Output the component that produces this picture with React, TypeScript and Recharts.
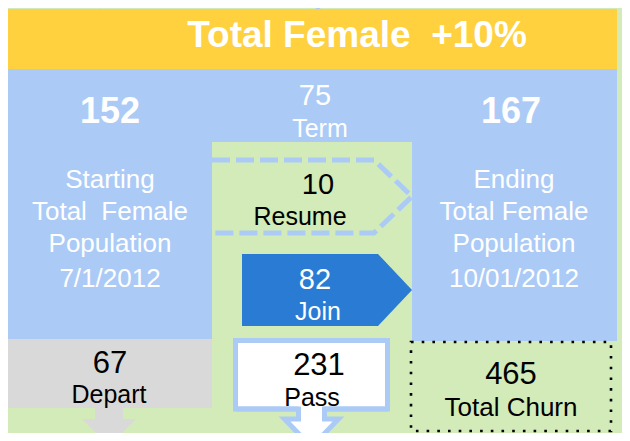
import React from 'react';
import { ComposedChart, XAxis, YAxis, ReferenceArea } from 'recharts';

// ---- data ----
const titleText = 'Total Female  +10%';
const populationValues = [152, 167];
const populationLabels = [
  ['Starting', 'Total  Female', 'Population'],
  ['Ending', 'Total Female', 'Population'],
];
const populationDates = ['7/1/2012', '10/01/2012'];
const flowLabels = ['Term', 'Resume', 'Join', 'Depart', 'Pass', 'Total Churn'];
const flowValues = [75, 10, 82, 67, 231, 465];

// ---- style ----
const W = 630;
const H = 441;
const GREEN = '#d2ebb9';
const YELLOW = '#ffd13f';
const LBLUE = '#abcbf6';
const BLUE = '#2a7bd3';
const GREY = '#d9d9d9';
const FONT = '"Liberation Sans", Arial, sans-serif';

type P = { x: number; y: number; width: number; height: number };

const T = (props: { x: number; y: number; size: number; fill: string; bold?: boolean; children: React.ReactNode }) => (
  <text
    x={props.x}
    y={props.y}
    fontSize={props.size}
    fill={props.fill}
    fontWeight={props.bold ? 'bold' : 'normal'}
    textAnchor="middle"
    fontFamily={FONT}
    style={{ whiteSpace: 'pre' }}
  >
    {props.children}
  </text>
);

const rectShape = (fill: string) => (p: P) => (
  <rect x={p.x} y={p.y} width={p.width} height={p.height} fill={fill} />
);

export default function App() {
  return (
    <div style={{ margin: -8, width: W, height: H, background: GREEN }}>
      <ComposedChart
        width={W}
        height={H}
        data={flowLabels.map((l, i) => ({ name: l, value: flowValues[i] }))}
        margin={{ top: 0, right: 0, bottom: 0, left: 0 }}
        style={{ fontFamily: FONT }}
      >
        <XAxis type="number" dataKey="value" domain={[0, W]} hide allowDataOverflow />
        <YAxis type="number" domain={[0, H]} reversed hide allowDataOverflow />

        {/* background */}
        <ReferenceArea x1={0} x2={W} y1={0} y2={H} ifOverflow="visible" shape={rectShape(GREEN)} />

        {/* arrow tips from the row above */}
        <ReferenceArea
          x1={90} x2={110} y1={0} y2={9} ifOverflow="visible"
          shape={(p: P) => (
            <path d={`M${p.x},${p.y} H${p.x + p.width} L${p.x + p.width / 2},${p.y + p.height} Z`} fill={GREY} />
          )}
        />
        <ReferenceArea
          x1={304} x2={332} y1={0} y2={10} ifOverflow="visible"
          shape={(p: P) => (
            <g>
              <path d={`M${p.x},${p.y} H${p.x + p.width} L${p.x + p.width / 2},${p.y + p.height} Z`} fill={LBLUE} />
              <path d={`M${p.x + 8},${p.y} H${p.x + p.width - 8} L${p.x + p.width / 2},${p.y + 4} Z`} fill="#fff" />
            </g>
          )}
        />

        {/* title banner */}
        <ReferenceArea
          x1={7} x2={617} y1={9} y2={69} ifOverflow="visible"
          shape={(p: P) => (
            <g>
              <rect x={p.x} y={p.y} width={p.width} height={p.height} fill={YELLOW} />
              <T x={357} y={p.y + 38} size={37} fill="#fff" bold>{titleText}</T>
            </g>
          )}
        />

        {/* top blue band (Term) */}
        <ReferenceArea
          x1={7} x2={617} y1={69} y2={142} ifOverflow="visible"
          shape={(p: P) => (
            <g>
              <rect x={p.x} y={p.y} width={p.width} height={p.height} fill={LBLUE} />
              <T x={315} y={105} size={29} fill="#fff">{flowValues[0]}</T>
              <T x={320} y={137} size={25} fill="#fff">{flowLabels[0]}</T>
            </g>
          )}
        />

        {/* starting population */}
        <ReferenceArea
          x1={7} x2={212} y1={69} y2={339} ifOverflow="visible"
          shape={(p: P) => {
            const cx = 110;
            return (
              <g>
                <rect x={p.x} y={p.y} width={p.width} height={p.height} fill={LBLUE} />
                <T x={cx} y={123} size={36} fill="#fff" bold>{populationValues[0]}</T>
                {populationLabels[0].map((s, i) => (
                  <T key={i} x={cx} y={188 + i * 32} size={26} fill="#fff">{s}</T>
                ))}
                <T x={cx} y={287} size={26} fill="#fff">{populationDates[0]}</T>
              </g>
            );
          }}
        />

        {/* ending population */}
        <ReferenceArea
          x1={412} x2={617} y1={69} y2={341} ifOverflow="visible"
          shape={(p: P) => {
            const cx = 514;
            return (
              <g>
                <rect x={p.x} y={p.y} width={p.width} height={p.height} fill={LBLUE} />
                <T x={511} y={123} size={36} fill="#fff" bold>{populationValues[1]}</T>
                {populationLabels[1].map((s, i) => (
                  <T key={i} x={cx} y={188 + i * 32} size={26} fill="#fff">{s}</T>
                ))}
                <T x={cx} y={287} size={26} fill="#fff">{populationDates[1]}</T>
              </g>
            );
          }}
        />

        {/* Resume dashed pentagon */}
        <ReferenceArea
          x1={212} x2={412} y1={160} y2={233} ifOverflow="visible"
          shape={(p: P) => {
            const r = p.x + p.width;
            const b = p.y + p.height;
            const m = p.y + p.height / 2;
            return (
              <g>
                <path
                  d={`M${p.x},${p.y} H${r - 38} L${r},${m} L${r - 38},${b} H${p.x}`}
                  fill="none" stroke={LBLUE} strokeWidth={5} strokeDasharray="18 6"
                />
                <T x={318} y={194} size={29} fill="#000">{flowValues[1]}</T>
                <T x={300} y={225} size={25} fill="#000">{flowLabels[1]}</T>
              </g>
            );
          }}
        />

        {/* Join arrow */}
        <ReferenceArea
          x1={242} x2={412} y1={254} y2={326} ifOverflow="visible"
          shape={(p: P) => {
            const r = p.x + p.width;
            const b = p.y + p.height;
            const m = p.y + p.height / 2;
            return (
              <g>
                <path d={`M${p.x},${p.y} H${r - 34} L${r},${m} L${r - 34},${b} H${p.x} Z`} fill={BLUE} />
                <T x={315} y={289} size={29} fill="#fff">{flowValues[2]}</T>
                <T x={318} y={320} size={25} fill="#fff">{flowLabels[2]}</T>
              </g>
            );
          }}
        />

        {/* Depart box + arrow */}
        <ReferenceArea
          x1={7} x2={212} y1={339} y2={408} ifOverflow="visible"
          shape={(p: P) => {
            const cx = 109;
            const b = p.y + p.height;
            return (
              <g>
                <rect x={p.x} y={p.y} width={p.width} height={p.height} fill={GREY} />
                <path
                  d={`M${cx - 14},${b - 1} H${cx + 14} V${b + 11} H${cx + 27} L${cx},${b + 38} L${cx - 27},${b + 11} H${cx - 14} Z`}
                  fill={GREY}
                />
                <T x={110} y={373} size={31} fill="#000">{flowValues[3]}</T>
                <T x={109} y={403} size={25} fill="#000">{flowLabels[3]}</T>
              </g>
            );
          }}
        />

        {/* Pass callout */}
        <ReferenceArea
          x1={235.5} x2={387.5} y1={340.5} y2={409} ifOverflow="visible"
          shape={(p: P) => {
            const r = p.x + p.width;
            const b = p.y + p.height;
            const cx = p.x + p.width / 2;
            const d = `M${p.x},${p.y} H${r} V${b} H${cx + 13} V${b + 10} H${cx + 27} L${cx},${b + 38} L${cx - 27},${b + 10} H${cx - 13} V${b} H${p.x} Z`;
            return (
              <g>
                <path d={d} fill="#fff" stroke={LBLUE} strokeWidth={5} strokeLinejoin="miter" />
                <T x={319} y={375} size={31} fill="#000">{flowValues[4]}</T>
                <T x={312} y={406} size={25} fill="#000">{flowLabels[4]}</T>
                <path d={`M${p.x},${b} H${cx - 13} M${cx + 13},${b} H${r}`} stroke={LBLUE} strokeWidth={5} />
              </g>
            );
          }}
        />

        {/* Total churn dotted box */}
        <ReferenceArea
          x1={411} x2={611} y1={342} y2={431} ifOverflow="visible"
          shape={(p: P) => (
            <g>
              <rect
                x={p.x} y={p.y} width={p.width} height={p.height}
                fill="none" stroke="#000" strokeWidth={2.6} strokeDasharray="2.6 8.1"
              />
              <T x={511} y={384} size={31} fill="#000">{flowValues[5]}</T>
              <T x={511} y={416} size={26} fill="#000">{flowLabels[5]}</T>
            </g>
          )}
        />
      </ComposedChart>
    </div>
  );
}
